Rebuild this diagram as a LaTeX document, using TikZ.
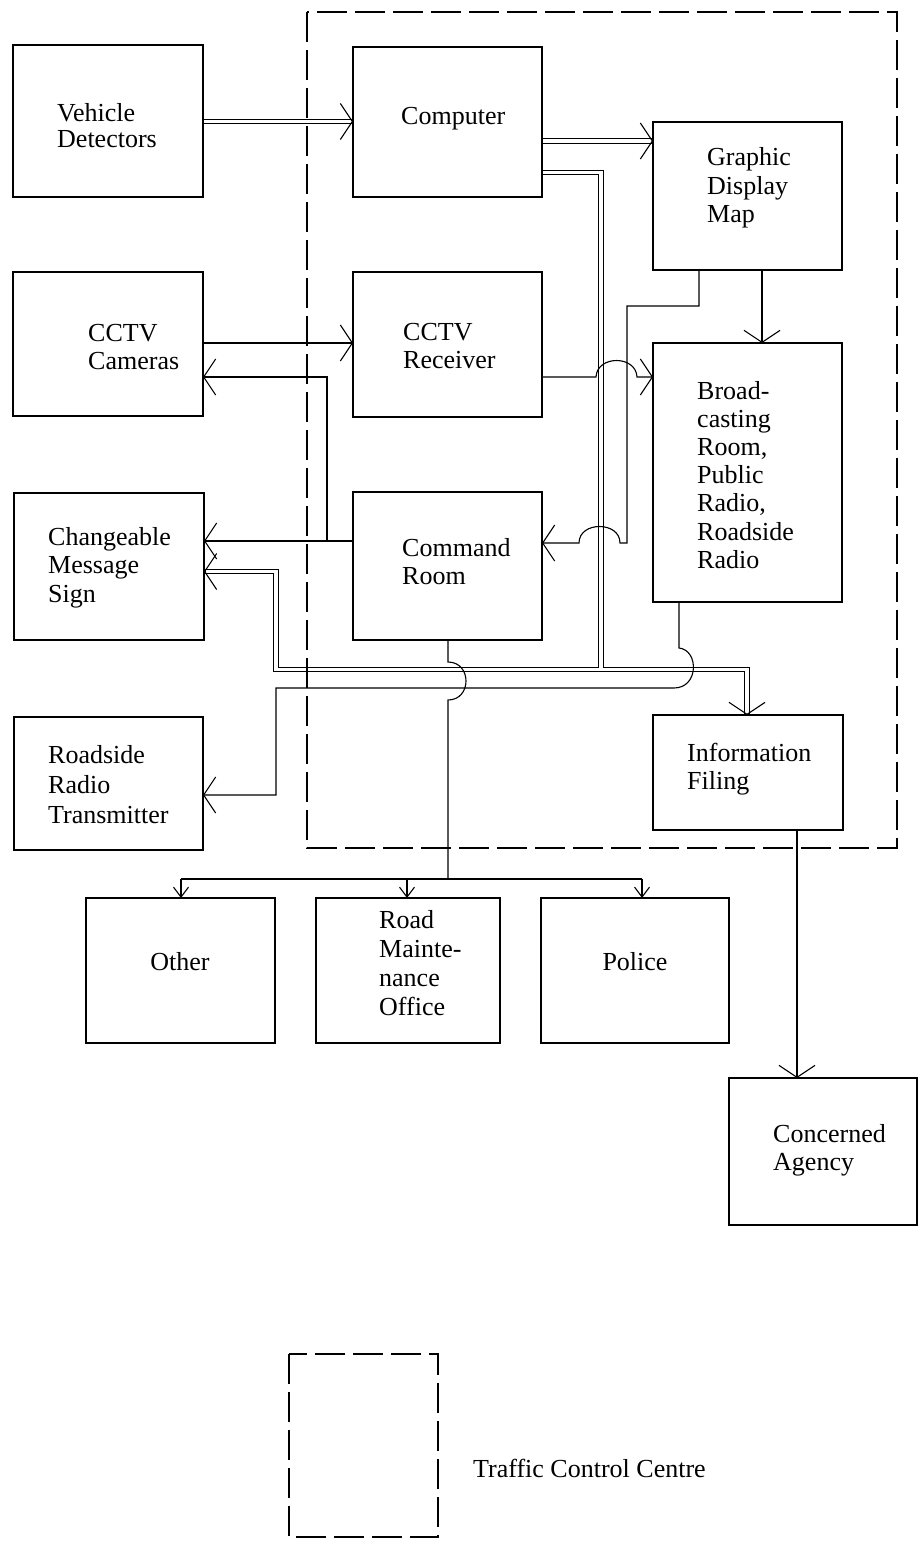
\documentclass[tikz,border=0pt]{standalone}
\usepackage{fontspec}
\setmainfont{Liberation Serif}
\usetikzlibrary{arrows.meta,calc,backgrounds}
\newcommand\ml[1]{\vtop{#1}}
\begin{document}
\begin{tikzpicture}[x=1pt,y=-1pt,
  box/.style={draw,line width=1.8pt,rectangle,inner sep=0pt,outer sep=0pt,anchor=north west},
  lbl/.style={inner sep=0pt,anchor=base west,font=\fontsize{26}{28.5}\selectfont},
  clbl/.style={inner sep=0pt,anchor=base,font=\fontsize{26}{28.5}\selectfont},
  ln/.style={line width=1.1pt},
  arr/.style={line width=1.1pt,-{Straight Barb[length=12pt,width=36pt]}},
  sarr/.style={line width=1.1pt,-{Straight Barb[length=10pt,width=15pt]}},
  dblout/.style={line width=5.8pt,line join=miter},
  dblin/.style={line width=3.6pt,white,line join=miter},
  dashbox/.style={line width=1.8pt,dash pattern=on 30pt off 8pt}]
\useasboundingbox (0,0) rectangle (920,1546);

% boxes
\node[box,minimum width=190pt,minimum height=152pt] (vd) at (13,45) {};
\node[box,minimum width=189pt,minimum height=150pt] (comp) at (353,47) {};
\node[box,minimum width=189pt,minimum height=148pt] (gdm) at (653,122) {};
\node[box,minimum width=190pt,minimum height=144pt] (cctvc) at (13,272) {};
\node[box,minimum width=189pt,minimum height=145pt] (cctvr) at (353,272) {};
\node[box,minimum width=189pt,minimum height=259pt] (bcast) at (653,343) {};
\node[box,minimum width=189pt,minimum height=148pt] (cmd) at (353,492) {};
\node[box,minimum width=190pt,minimum height=147pt] (cms) at (14,493) {};
\node[box,minimum width=190pt,minimum height=115pt] (info) at (653,715) {};
\node[box,minimum width=189pt,minimum height=133pt] (rrt) at (14,717) {};
\node[box,minimum width=189pt,minimum height=145pt] (other) at (86,898) {};
\node[box,minimum width=184pt,minimum height=145pt] (rmo) at (316,898) {};
\node[box,minimum width=188pt,minimum height=145pt] (police) at (541,898) {};
\node[box,minimum width=188pt,minimum height=147pt] (agency) at (729,1078) {};

% labels
\node[lbl] (tvd) at (57,122) {\ml{\baselineskip=25.5pt\hbox{Vehicle}\hbox{Detectors}}};
\node[lbl] (tcomp) at (401,125) {Computer};
\node[lbl] (tgdm) at (707,166) {\ml{\hbox{Graphic}\hbox{Display}\hbox{Map}}};
\node[lbl] (tcctvc) at (88,341) {\ml{\hbox{CCTV}\hbox{Cameras}}};
\node[lbl] (tcctvr) at (403,340) {\ml{\hbox{CCTV}\hbox{Receiver}}};
\node[lbl] (tbcast) at (697,399) {\ml{\baselineskip=28.2pt\hbox{Broad-}\hbox{casting}\hbox{Room,}\hbox{Public}\hbox{Radio,}\hbox{Roadside}\hbox{Radio}}};
\node[lbl] (tcmd) at (402,556) {\ml{\hbox{Command}\hbox{Room}}};
\node[lbl] (tcms) at (48,545) {\ml{\hbox{Changeable}\hbox{Message}\hbox{Sign}}};
\node[lbl] (tinfo) at (687,761) {\ml{\hbox{Information}\hbox{Filing}}};
\node[lbl] (trrt) at (48,763) {\ml{\baselineskip=30pt\hbox{Roadside}\hbox{Radio}\hbox{Transmitter}}};
\node[clbl] (tother) at (180,970) {Other};
\node[lbl] (trmo) at (379,928) {\ml{\baselineskip=29pt\hbox{Road}\hbox{Mainte-}\hbox{nance}\hbox{Office}}};
\node[clbl] (tpolice) at (635,970) {Police};
\node[lbl] (tagency) at (773,1142) {\ml{\hbox{Concerned}\hbox{Agency}}};
\node[lbl] (ttcc) at (473,1477) {Traffic Control Centre};

% dashed frames
\draw[dashbox] (307,12) rectangle (897,848);
\draw[dashbox] (289,1354) rectangle (438,1537);

% level / bend coordinates
\coordinate (L121) at (0,121.5);
\coordinate (L141) at (0,141);
\coordinate (bA) at (601,172.5);
\coordinate (bB) at (601,669.5);
\coordinate (bL) at (276,669.5);
\coordinate (bL2) at (276,571.5);
\coordinate (bR) at (747,669.5);
\coordinate (L343) at (0,343);
\coordinate (L377) at (0,377);
\coordinate (L541) at (0,541);
\coordinate (k1) at (327,541);
\coordinate (k2) at (327,377);
\coordinate (g1) at (699,306);
\coordinate (g2) at (627,306);
\coordinate (g3) at (627,543);
\coordinate (v762) at (762,0);
\coordinate (b1) at (679,648);
\coordinate (r1) at (276,688);
\coordinate (r2) at (276,795);
\coordinate (d0) at (448,879);
\coordinate (dl) at (181,879);
\coordinate (dm) at (407,879);
\coordinate (dr) at (642,879);
\coordinate (v797) at (797,0);

\begin{pgfonlayer}{background}
% double lines: all black first, then all white
\foreach \s in {dblout,dblin} {
  \draw[\s] (vd.east |- L121) -- (comp.west |- L121);
  \draw[\s] (comp.east |- L141) -- (gdm.west |- L141);
  \draw[\s] (comp.east |- bA) -- (bA) -- (bB) -- (bL) -- (bL2) -- (cms.east |- bL2);
  \draw[\s] (bB) -- (bR) -- (info.north -| bR);
}
% tips of double lines
\draw[arr] ($(comp.west |- L121)+(-1,0)$) -- (comp.west |- L121);
\draw[arr] ($(gdm.west |- L141)+(-1,0)$) -- (gdm.west |- L141);
\draw[arr] ($(cms.east |- bL2)+(1,0)$) -- (cms.east |- bL2);
\draw[arr] ($(info.north -| bR)+(0,-1)$) -- (info.north -| bR);

% single connectors
\draw[arr] (cctvc.east |- L343) -- (cctvr.west |- L343);
\draw[arr] (cctvr.east |- L377) -- (596,377) .. controls (597,355) and (636,355) .. (637,377) -- (bcast.west |- L377);
\draw[arr] (cmd.west |- L541) -- (cms.east |- L541);
\draw[arr] (k1) -- (k2) -- (cctvc.east |- k2);
\draw[arr] (gdm.south -| g1) -- (g1) -- (g2) -- (g3) -- (620,543) .. controls (620,521) and (579,521) .. (579,543) -- (cmd.east |- g3);
\draw[arr] (gdm.south -| v762) -- (bcast.north -| v762);
\draw[arr] (bcast.south -| b1) -- (b1) .. controls (699,650) and (699,688) .. (674,688) -- (r1) -- (r2) -- (rrt.east |- r2);
\draw[ln] (cmd.south -| d0) -- (448,662) .. controls (472,662) and (472,700) .. (448,700) -- (d0);
\draw[ln] (dl) -- (dr);
\draw[sarr] (dl) -- (other.north -| dl);
\draw[sarr] (dm) -- (rmo.north -| dm);
\draw[sarr] (dr) -- (police.north -| dr);
\draw[arr] (info.south -| v797) -- (agency.north -| v797);
\end{pgfonlayer}
\end{tikzpicture}
\end{document}
